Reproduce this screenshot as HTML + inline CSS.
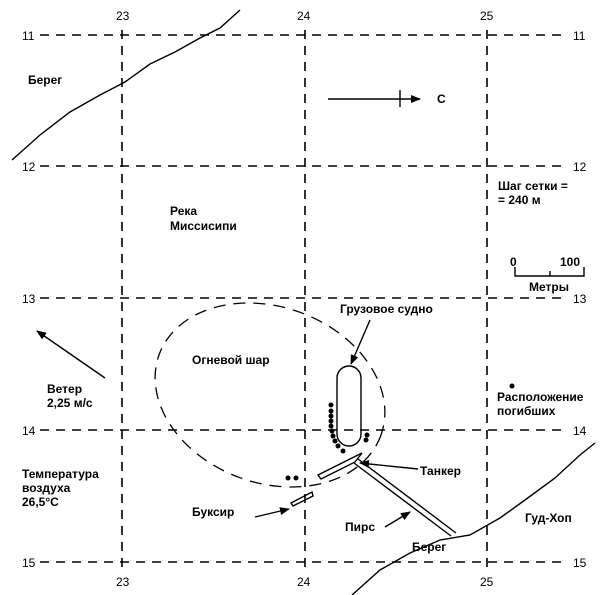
<!DOCTYPE html>
<html><head><meta charset="utf-8"><style>
html,body{margin:0;padding:0;background:#fff;}
svg{display:block;font-family:"Liberation Sans","DejaVu Sans",sans-serif;}
text{fill:#000;font-size:12px;}
</style></head><body>
<svg width="616" height="595" viewBox="0 0 616 595">
<defs><marker id="a" markerWidth="10" markerHeight="8" refX="9" refY="4" orient="auto" markerUnits="userSpaceOnUse"><path d="M0,0 L10,4 L0,8 z" fill="#000"/></marker></defs>
<g stroke="#000" stroke-width="1.6" stroke-dasharray="9,7" fill="none">
<line x1="40" y1="35" x2="568" y2="35"/>
<line x1="40" y1="166" x2="568" y2="166"/>
<line x1="40" y1="298" x2="568" y2="298"/>
<line x1="40" y1="430" x2="568" y2="430"/>
<line x1="40" y1="562" x2="568" y2="562"/>
<line x1="122" y1="30" x2="122" y2="570"/>
<line x1="305" y1="30" x2="305" y2="570"/>
<line x1="487" y1="30" x2="487" y2="570"/>
<ellipse cx="270" cy="395" rx="118" ry="88" transform="rotate(20 270 395)" stroke-dasharray="12,8" stroke-width="1.3"/>
</g>
<g font-size="12">
<text x="116" y="20">23</text><text x="297" y="20">24</text><text x="480" y="20">25</text>
<text x="116" y="586">23</text><text x="297" y="586">24</text><text x="480" y="586">25</text>
<text x="22" y="40">11</text><text x="22" y="171">12</text><text x="22" y="303">13</text><text x="22" y="435">14</text><text x="22" y="567">15</text>
<text x="573" y="40">11</text><text x="573" y="171">12</text><text x="573" y="303">13</text><text x="573" y="435">14</text><text x="573" y="567">15</text>
</g>
<g font-size="12" font-weight="bold">
<text x="28" y="84">Берег</text>
<text x="170" y="215">Река</text><text x="170" y="230">Миссисипи</text>
<text x="498" y="190">Шаг сетки =</text><text x="498" y="204">= 240 м</text>
<text x="510" y="266">0</text><text x="560" y="266">100</text>
<text x="529" y="291">Метры</text>
<text x="437" y="103">С</text>
<text x="340" y="313">Грузовое судно</text>
<text x="192" y="364">Огневой шар</text>
<text x="47" y="393">Ветер</text><text x="47" y="407">2,25 м/с</text>
<text x="497" y="401">Расположение</text><text x="497" y="415">погибших</text>
<text x="22" y="478">Температура</text><text x="22" y="492">воздуха</text><text x="22" y="506">26,5°С</text>
<text x="420" y="475">Танкер</text>
<text x="192" y="516">Буксир</text>
<text x="345" y="531">Пирс</text>
<text x="412" y="551">Берег</text>
<text x="525" y="522">Гуд-Хоп</text>
</g>
<g stroke="#000" stroke-width="1.4" fill="none">
<path d="M12,160 L40,135 L70,112 L100,95 L125,82 L150,64 L175,52 L200,38 L220,28 L240,10"/>
<path d="M328,99 L420,99" marker-end="url(#a)"/><line x1="400" y1="90" x2="400" y2="107"/>
<path d="M515,267 L515,276 L584,276 L584,267 M550,276 L550,271"/>
<path d="M105,378 L37,331" marker-end="url(#a)"/>
<rect x="337" y="366" width="24" height="80" rx="12"/>
<path d="M370,320 L351,364" marker-end="url(#a)"/>
<polygon points="318,475 352,458 362,453 355,462 321,479"/>
<path d="M418,469 L360,463" marker-end="url(#a)"/>
<path d="M354,463 L451,536 M358,459 L456,533"/>
<polygon points="291,503 312,492 313,496 293,506"/>
<path d="M255,517 L289,509" marker-end="url(#a)"/>
<path d="M385,527 L410,512" marker-end="url(#a)"/>
<path d="M352,595 L380,570 L410,553 L440,540 L470,535 L500,518 L525,500 L555,478 L580,455 L595,443"/>
</g>
<g fill="#000">
<circle cx="331" cy="405" r="2.5"/><circle cx="331" cy="411" r="2.5"/><circle cx="331" cy="416" r="2.5"/><circle cx="331" cy="421" r="2.5"/><circle cx="331" cy="426" r="2.5"/><circle cx="332" cy="431" r="2.5"/><circle cx="333" cy="436" r="2.5"/><circle cx="335" cy="441" r="2.5"/><circle cx="338" cy="446" r="2.5"/><circle cx="343" cy="451" r="2.5"/>
<circle cx="367" cy="435" r="2.5"/><circle cx="366" cy="440" r="2.5"/>
<circle cx="288" cy="478" r="2.5"/><circle cx="296" cy="478" r="2.5"/>
<circle cx="512" cy="386" r="2.5"/>
</g>
</svg>
</body></html>
